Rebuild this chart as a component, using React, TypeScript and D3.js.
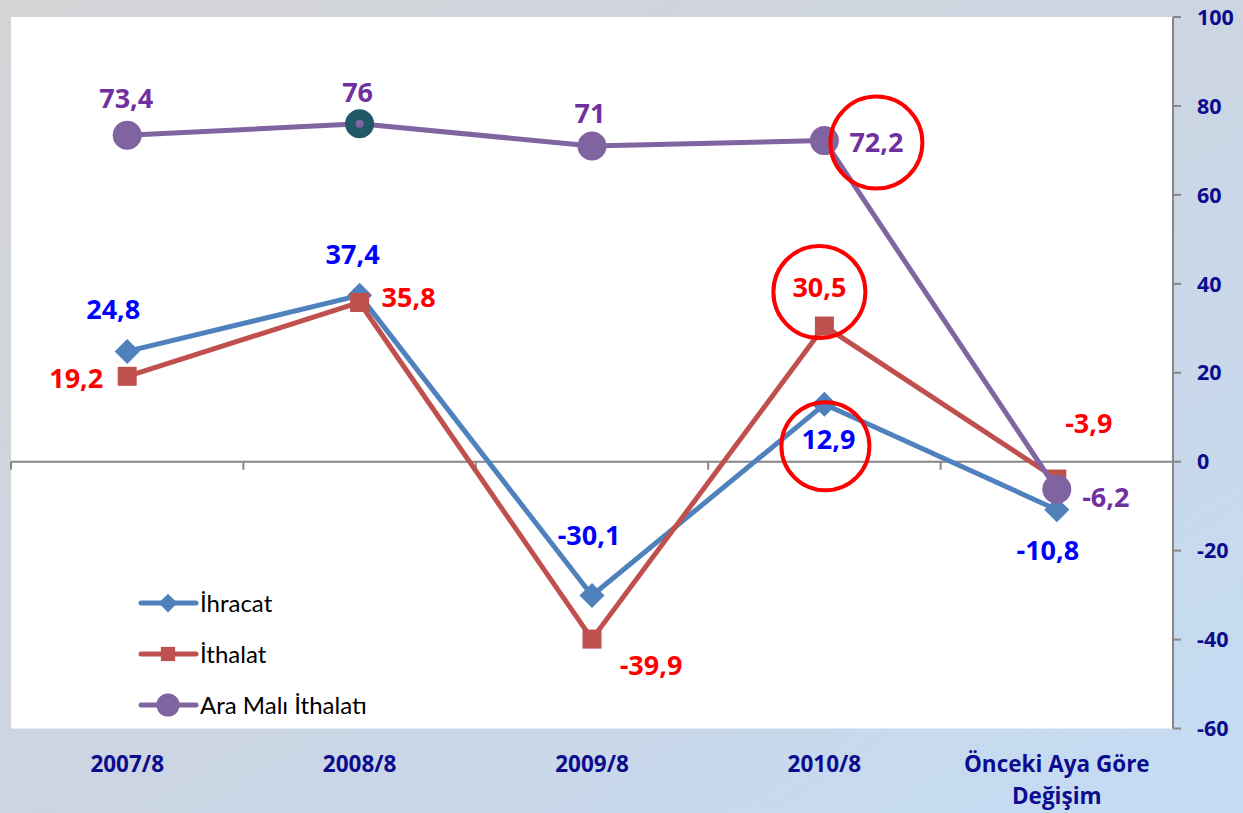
import React from "react";
import * as d3 from "d3";

const categories = ["2007/8", "2008/8", "2009/8", "2010/8", "Önceki Aya Göre|Değişim"];
const ihracat = [24.8, 37.4, -30.1, 12.9, -10.8];
const ithalat = [19.2, 35.8, -39.9, 30.5, -3.9];
const araMali = [73.4, 76, 71, 72.2, -6.2];
const yTicks = [100, 80, 60, 40, 20, 0, -20, -40, -60];
const seriesNames = ["İhracat", "İthalat", "Ara Malı İthalatı"];

// label offsets (style/layout, not data)
const labelOffsets = [
  [[-14, -42], [-7, -41], [-3, -60], [4, 35], [-9, 41]],
  [[-51, 2], [49, -5], [59, 26], [-5, -39], [32, -56]],
  [[-1, -37], [-2, -31], [-2, -33], [52, 2], [49, 8]],
];
const lineColors = ["#4f81bd", "#c0504d", "#8064a2"];
const labelColors = ["#0000ff", "#ff0000", "#7030a0"];
const markers = ["diamond", "square", "circle"];

const W = 1243, H = 813;
const plotL = 11, plotR = 1173, plotT = 17, plotB = 728.5;
const navy = "#0c0c8e";
const boldFont = "'Open Sans', Lato, sans-serif";
const font = "Lato, 'Open Sans', sans-serif";

function fmt(v: number) {
  return String(v).replace(".", ",");
}

function Marker({ type, x, y, color, scale = 1 }: any) {
  if (type === "diamond") {
    const s = 12.5 * scale;
    return <path d={`M${x},${y - s}L${x + s},${y}L${x},${y + s}L${x - s},${y}Z`} fill={color} />;
  }
  if (type === "square") {
    const s = 9.5 * scale;
    return <rect x={x - s} y={y - s} width={2 * s} height={2 * s} fill={color} />;
  }
  return <circle cx={x} cy={y} r={14.5 * scale} fill={color} />;
}

export default function App() {
  const x = d3.scalePoint<number>().domain(d3.range(categories.length)).range([plotL, plotR]).padding(0.5);
  const band = (plotR - plotL) / categories.length;
  const y = d3.scaleLinear().domain([-60, 100]).range([plotB, plotT]);
  const allSeries = [ihracat, ithalat, araMali];
  const line = d3.line<number>().x((_, i) => x(i)!).y((v) => y(v));

  return (
    <div style={{ position: "absolute", left: 0, top: 0 }}>
      <svg width={W} height={H} style={{ display: "block" }}>
        <defs>
          <linearGradient id="bg" x1="0" y1="0" x2="1" y2="1">
            <stop offset="0" stopColor="#d4d4d6" />
            <stop offset="0.5" stopColor="#ccd5e2" />
            <stop offset="1" stopColor="#c4dcf4" />
          </linearGradient>
        </defs>
        <rect x={0} y={0} width={W} height={H} fill="url(#bg)" />
        <rect x={plotL} y={plotT} width={plotR - plotL} height={plotB - plotT} fill="#ffffff" />

        {/* zero line with category ticks */}
        <line x1={plotL} x2={plotR} y1={y(0)} y2={y(0)} stroke="#868686" strokeWidth={2} />
        {d3.range(categories.length).map((i) => (
          <line key={i} x1={plotL + i * band} x2={plotL + i * band} y1={y(0)} y2={y(0) + 8} stroke="#868686" strokeWidth={2} />
        ))}

        {/* right axis */}
        <line x1={plotR} x2={plotR} y1={plotT} y2={plotB} stroke="#868686" strokeWidth={2} />
        {yTicks.map((t) => (
          <g key={t}>
            <line x1={plotR} x2={plotR + 8} y1={y(t)} y2={y(t)} stroke="#868686" strokeWidth={2} />
            <text x={1197} y={y(t)} dy="0.36em" fontFamily={boldFont} fontWeight={700} fontSize={21.5} fill={navy}>
              {t}
            </text>
          </g>
        ))}

        {/* category labels */}
        {categories.map((c, i) =>
          c.split("|").map((part, j) => (
            <text key={i + "-" + j} x={x(i)} y={772 + j * 32} textAnchor="middle" fontFamily={boldFont} fontWeight={700} fontSize={22.5} fill={navy}>
              {part}
            </text>
          ))
        )}

        {/* series */}
        {allSeries.map((s, si) => (
          <g key={si}>
            <path d={line(s)!} fill="none" stroke={lineColors[si]} strokeWidth={5} strokeLinejoin="round" />
            {s.map((v, i) =>
              si === 2 && i === 1 ? (
                <g key={i}>
                  <circle cx={x(i)} cy={y(v)} r={14.5} fill="#215968" />
                  <circle cx={x(i)} cy={y(v)} r={4} fill="#8064a2" />
                </g>
              ) : (
                <Marker key={i} type={markers[si]} x={x(i)} y={y(v)} color={lineColors[si]} />
              )
            )}
          </g>
        ))}

        {/* data labels */}
        {allSeries.map((s, si) =>
          s.map((v, i) => (
            <text
              key={si + "-" + i}
              x={x(i)! + labelOffsets[si][i][0]}
              y={y(v) + labelOffsets[si][i][1]}
              dy="0.36em"
              textAnchor="middle"
              fontFamily={boldFont}
              fontWeight={700}
              fontSize={27}
              fill={labelColors[si]}
            >
              {fmt(v)}
            </text>
          ))
        )}

        {/* annotation circles */}
        <circle cx={x(3)! + 52} cy={y(araMali[3]) + 2} r={46} fill="none" stroke="#ff0000" strokeWidth={4} />
        <circle cx={x(3)! - 5} cy={y(ithalat[3]) - 34} r={46} fill="none" stroke="#ff0000" strokeWidth={4} />
        <circle cx={x(3)! + 1} cy={y(ihracat[3]) + 42} r={44} fill="none" stroke="#ff0000" strokeWidth={4} />

        {/* legend */}
        {seriesNames.map((n, i) => (
          <g key={n}>
            <line x1={141} x2={196} y1={603 + i * 51} y2={603 + i * 51} stroke={lineColors[i]} strokeWidth={5} strokeLinecap="round" />
            <Marker type={markers[i]} x={168} y={603 + i * 51} color={lineColors[i]} scale={i === 2 ? 0.8 : 0.75} />
            <text x={200} y={603 + i * 51} dy="0.36em" fontFamily={font} fontSize={24} fill="#000000">
              {n}
            </text>
          </g>
        ))}
      </svg>
    </div>
  );
}
